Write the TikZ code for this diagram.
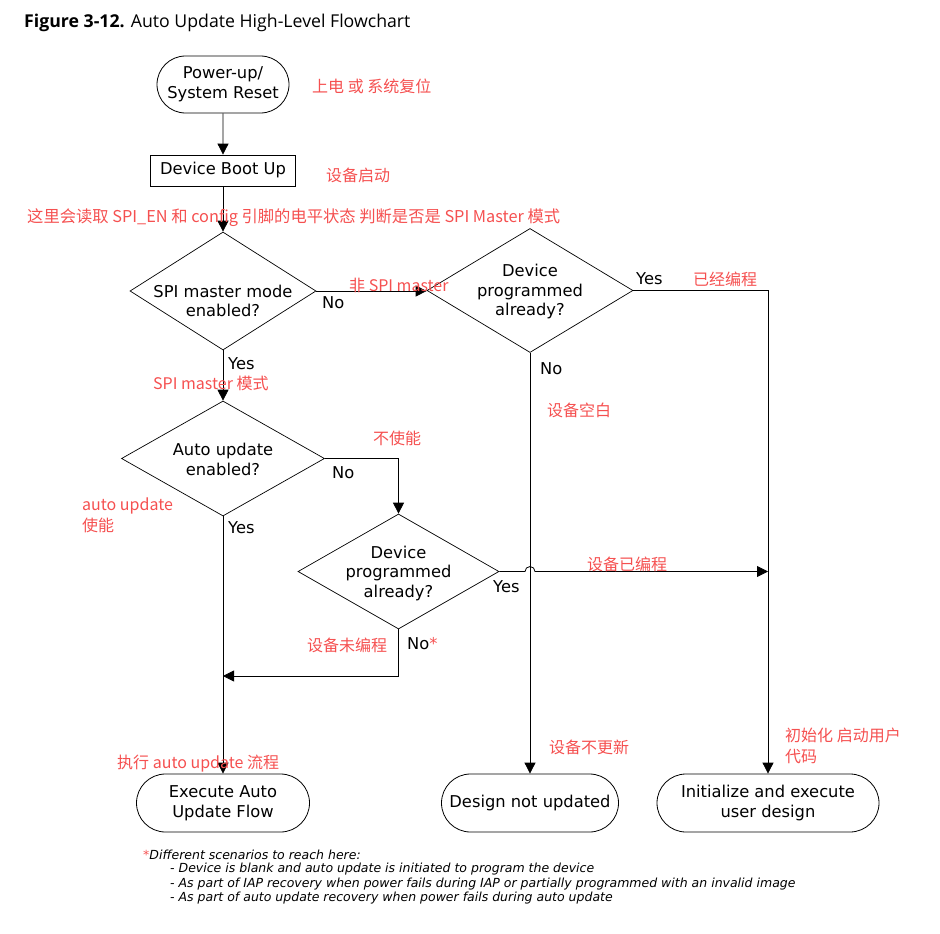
\documentclass[tikz,border=0pt]{standalone}
\usepackage{fontspec}
\setmainfont{DejaVu Sans}
\newfontfamily\titlefont{Open Sans}
\newfontfamily\cjk{Noto Sans CJK SC}
\usetikzlibrary{shapes.geometric,shapes.misc,arrows.meta,calc}
\definecolor{anno}{RGB}{245,80,80}
\begin{document}
\begin{tikzpicture}[x=1pt,y=-1pt,
  every node/.style={inner sep=0pt},
  body/.style={font=\fontsize{16.3}{19.5}\selectfont, align=center},
  term/.style={rounded rectangle, draw, line width=0.8pt, body, minimum height=58pt},
  proc/.style={rectangle, draw, line width=0.8pt, body, minimum width=145pt, minimum height=31pt},
  dec/.style={diamond, draw, line width=0.7pt},
  arr/.style={draw, line width=0.8pt, -{Triangle[length=11pt,width=11pt]}},
  yn/.style={font=\fontsize{16.3}{19}\selectfont, anchor=west},
  note/.style={font=\cjk\fontsize{16}{21}\selectfont, text=anno, anchor=west, align=left},
  foot/.style={font=\itshape\fontsize{12.5}{15}\selectfont, anchor=west}]
\useasboundingbox (0,0) rectangle (940,934);

% title
\node[anchor=west, font=\titlefont\fontsize{17.7}{21}\selectfont] (title) at (24,23) {\textbf{Figure 3-12.} Auto Update High-Level Flowchart};

% nodes
\node[term, minimum width=132pt, minimum height=57pt] (pwr) at (223,84.5) {Power-up/\\System Reset};
\node[proc] (boot) at (223,170.5) {Device Boot Up};

\node[dec, minimum width=186pt, minimum height=118pt] (d1) at (223,291) {};
\node[body] (d1t) at (223,301) {SPI master mode\\enabled?};

\node[dec, minimum width=206pt, minimum height=124pt] (d2) at (530,290.5) {};
\node[body] (d2t) at (530,292) {Device\\programmed\\already?};

\node[dec, minimum width=203pt, minimum height=115pt] (d3) at (223,458.5) {};
\node[body] (d3t) at (223,459.5) {Auto update\\enabled?};

\node[dec, minimum width=201pt, minimum height=115pt] (d4) at (398.5,571.5) {};
\node[body] (d4t) at (398.5,573) {Device\\programmed\\already?};

\node[term, minimum width=173pt] (exe) at (223,803) {Execute Auto\\Update Flow};
\node[term, minimum width=177pt] (dnu) at (530,803) {Design not updated};
\node[term, minimum width=222pt] (init) at (768,803) {Initialize and execute\\user design};

% connectors
\draw[arr] (pwr) -- (boot);
\draw[arr] (boot) -- (d1);
\draw[arr] (d1.east) -- (d1.east -| d2.west);
\draw[arr] (d2.east) -| (init.north);
\draw[arr] (d2.south) -- (dnu.north);
\draw[arr] (d1.south) -- (d3.north);
\draw[arr] (d3.east) -| (d4.north);
\coordinate (j) at (init.north |- d4.east);
\coordinate (jc) at (d2.south |- d4.east);
\draw[arr] (d4.east) -- ($(jc)+(-5,0)$) arc[start angle=180,end angle=0,radius=5pt] -- (j);
\coordinate (m) at (223,676);
\draw[arr] (d4.south) |- (m);
\draw[arr] (d3.south) -- (exe.north);

% yes/no labels
\node[yn] (l1) at (322,303) {No};
\node[yn] (l2) at (636,279) {Yes};
\node[yn] (l3) at (540,369) {No};
\node[yn] (l4) at (228,364) {Yes};
\node[yn] (l5) at (332,473) {No};
\node[yn] (l6) at (228,528) {Yes};
\node[yn] (l7) at (493,587) {Yes};
\node[yn] (l8) at (407,644) {No\textcolor{anno}{*}};

% red annotations
\node[note] (n1) at (312,86) {上电 或 系统复位};
\node[note] (n2) at (326,175) {设备启动};
\node[note, font=\cjk\fontsize{16.3}{21}\selectfont] (n3) at (27,218) {这里会读取 SPI\_EN 和 config 引脚的电平状态 判断是否是 SPI Master 模式};
\node[note] (n4) at (349,285) {非 SPI master};
\node[note] (n5) at (693,279) {已经编程};
\node[note] (n6) at (153,383) {SPI master 模式};
\node[note] (n7) at (373,438) {不使能};
\node[note] (n8) at (82,515) {auto update\\使能};
\node[note] (n9) at (547,410) {设备空白};
\node[note] (n10) at (587,564) {设备已编程};
\node[note] (n11) at (307,645) {设备未编程};
\node[note] (n12) at (117,764) {执行 auto update 流程};
\node[note] (n13) at (549,747) {设备不更新};
\node[note] (n14) at (785,746) {初始化 启动用户\\代码};

% footnote
\node[foot] (f0) at (143,855) {\textcolor{anno}{*}Different scenarios to reach here:};
\node[foot] (f1) at (170,869.5) {- Device is blank and auto update is initiated to program the device};
\node[foot] (f2) at (170,884) {- As part of IAP recovery when power fails during IAP or partially programmed with an invalid image};
\node[foot] (f3) at (170,898.5) {- As part of auto update recovery when power fails during auto update};
\end{tikzpicture}
\end{document}
